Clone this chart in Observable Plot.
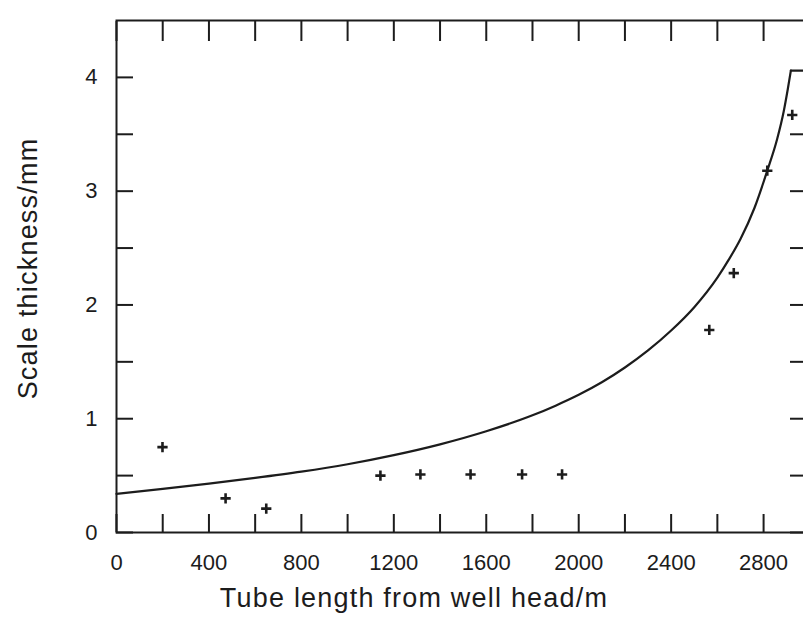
<!DOCTYPE html>
<html>
<head>
<meta charset="utf-8">
<script src="https://cdn.jsdelivr.net/npm/d3@7"></script>
<script src="https://cdn.jsdelivr.net/npm/@observablehq/plot@0.6"></script>
<style>
  html, body { margin: 0; padding: 0; background: #fff; }
  #chart { width: 803px; height: 620px; overflow: hidden; }
</style>
</head>
<body>
<div id="chart"></div>
<script>
// Model curve
const curveLength = [0, 200, 400, 600, 800, 1000, 1200, 1400, 1600, 1800, 1900, 2000, 2100, 2200, 2300, 2400, 2500, 2600, 2650, 2700, 2760, 2816, 2859, 2887, 2905, 2918];
const curveThickness = [0.34, 0.384, 0.43, 0.48, 0.535, 0.60, 0.68, 0.775, 0.89, 1.03, 1.115, 1.21, 1.32, 1.45, 1.60, 1.775, 1.98, 2.24, 2.40, 2.58, 2.85, 3.18, 3.46, 3.70, 3.90, 4.06];
// flat cap of the curve at the top right
const capLength = [2918, 2990];
const capThickness = [4.06, 4.06];

// Measured points (+)
const sampleLength = [199, 472, 648, 1142, 1315, 1532, 1755, 1928, 2565, 2671, 2816, 2924];
const sampleThickness = [0.75, 0.30, 0.21, 0.50, 0.51, 0.51, 0.51, 0.51, 1.78, 2.28, 3.18, 3.67];

// Ticks and labels
const xTicks = [0, 200, 400, 600, 800, 1000, 1200, 1400, 1600, 1800, 2000, 2200, 2400, 2600, 2800];
const xLabels = [0, 400, 800, 1200, 1600, 2000, 2400, 2800];
const yTicks = [0, 0.5, 1, 1.5, 2, 2.5, 3, 3.5, 4];
const yLabels = [0, 1, 2, 3, 4];
const xTitle = "Tube length from well head/m";
const yTitle = "Scale thickness/mm";

const curve = curveLength.map((x, i) => ({x, y: curveThickness[i]}));
const cap = capLength.map((x, i) => ({x, y: capThickness[i]}));
const samples = sampleLength.map((x, i) => ({x, y: sampleThickness[i]}));

const ink = "#1c1c1c";
const font = "'Liberation Sans', Arial, Helvetica, sans-serif";

const chart = Plot.plot({
  width: 803,
  height: 620,
  marginLeft: 116,
  marginRight: -4,
  marginTop: 20,
  marginBottom: 88,
  style: {fontFamily: font, color: ink, background: "#fff", overflow: "hidden"},
  x: {domain: [0, 2990]},
  y: {domain: [0, 4.5]},
  marks: [
    Plot.frame({stroke: ink, strokeWidth: 2}),
    // inward ticks on all four sides
    Plot.axisX(xTicks, {anchor: "bottom", tickSize: -18, strokeWidth: 2, stroke: ink, tickFormat: () => "", label: null}),
    Plot.axisX(xTicks, {anchor: "top", tickSize: -20, strokeWidth: 2, stroke: ink, tickFormat: () => "", label: null}),
    Plot.axisY(yTicks, {anchor: "left", tickSize: -17, strokeWidth: 2, stroke: ink, tickFormat: () => "", label: null}),
    Plot.axisY(yTicks.filter(d => d < 4), {anchor: "right", tickSize: -18, strokeWidth: 2, stroke: ink, tickFormat: () => "", label: null}),
    // tick labels
    Plot.text(xLabels, {x: d => d, text: d => String(d), frameAnchor: "bottom", lineAnchor: "top", dy: 22, fontSize: 22, fill: ink}),
    Plot.text(yLabels, {y: d => d, text: d => String(d), frameAnchor: "left", textAnchor: "end", dx: -19, fontSize: 22, fill: ink}),
    // model curve
    Plot.line(curve, {x: "x", y: "y", stroke: ink, strokeWidth: 2.2, curve: "monotone-x"}),
    Plot.line(cap, {x: "x", y: "y", stroke: ink, strokeWidth: 2.2}),
    // measured points
    Plot.dot(samples, {x: "x", y: "y", symbol: "plus", r: 3.4, stroke: ink, strokeWidth: 2.6}),
    // axis titles
    Plot.text([xTitle], {text: d => d, frameAnchor: "bottom", lineAnchor: "bottom", dy: 74, dx: -48, fontSize: 27, fill: ink}),
    Plot.text([yTitle], {text: d => d, frameAnchor: "left", textAnchor: "middle", lineAnchor: "bottom", rotate: -90, dx: -80, dy: -8, fontSize: 27, fill: ink})
  ]
});

document.getElementById("chart").appendChild(chart);
// letter spacing for the two axis titles
d3.select(chart).selectAll("text").filter(function() {
  const t = this.textContent;
  return t === xTitle || t === yTitle;
}).style("letter-spacing", "1.2px");
</script>
</body>
</html>
